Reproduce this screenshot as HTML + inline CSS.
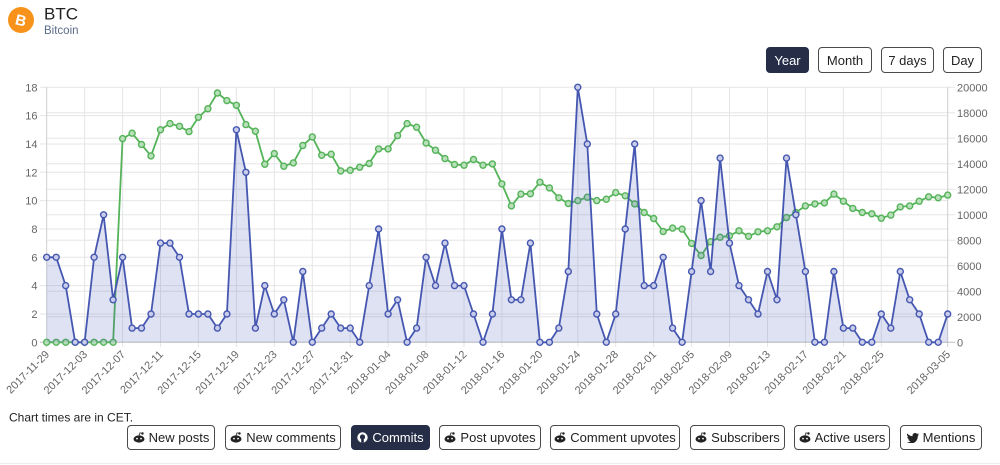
<!DOCTYPE html>
<html><head><meta charset="utf-8"><style>
body{margin:0;width:1000px;height:465px;position:relative;background:#fff;font-family:"Liberation Sans",sans-serif;overflow:hidden}
.btn{position:absolute;box-sizing:border-box;border:1px solid #4a4a4a;border-radius:4px;background:#fff;color:#222;font-size:13px;display:flex;align-items:center;justify-content:center;white-space:nowrap}
.btn.on{background:#252d47;border-color:#252d47;color:#fff}
.btn svg{margin-right:4px}
</style></head><body>
<svg width="1000" height="465" style="position:absolute;left:0;top:0" font-family="Liberation Sans, sans-serif">
<defs>
<marker id="mb" markerUnits="userSpaceOnUse" markerWidth="10" markerHeight="10" refX="5" refY="5" overflow="visible"><circle cx="5" cy="5" r="3" fill="#c9cdea" stroke="#4557b0" stroke-width="1.4"/></marker>
<marker id="mg" markerUnits="userSpaceOnUse" markerWidth="10" markerHeight="10" refX="5" refY="5" overflow="visible"><circle cx="5" cy="5" r="3" fill="#b8e0ba" stroke="#55b359" stroke-width="1.4"/></marker>
</defs>
<!-- header -->
<circle cx="21" cy="20" r="13" fill="#f7931a"/>
<text x="21" y="25.5" font-size="15" font-weight="bold" fill="#fff" text-anchor="middle" transform="rotate(14 21 20)">B</text>
<text x="44" y="19.5" font-size="17" fill="#222">BTC</text>
<text x="44" y="34" font-size="11.5" fill="#5b6b8a">Bitcoin</text>
<!-- grid horizontal -->
<g stroke="#e6e6e6" stroke-width="1">
<line x1="40" x2="947.7" y1="314.0" y2="314.0"/><line x1="40" x2="947.7" y1="285.6" y2="285.6"/><line x1="40" x2="947.7" y1="257.3" y2="257.3"/><line x1="40" x2="947.7" y1="229.0" y2="229.0"/><line x1="40" x2="947.7" y1="200.6" y2="200.6"/><line x1="40" x2="947.7" y1="172.3" y2="172.3"/><line x1="40" x2="947.7" y1="144.0" y2="144.0"/><line x1="40" x2="947.7" y1="115.6" y2="115.6"/><line x1="40" x2="955" y1="87.3" y2="87.3"/>
<line x1="46.7" x2="955" y1="316.8" y2="316.8"/><line x1="46.7" x2="955" y1="291.3" y2="291.3"/><line x1="46.7" x2="955" y1="265.8" y2="265.8"/><line x1="46.7" x2="955" y1="240.3" y2="240.3"/><line x1="46.7" x2="955" y1="214.8" y2="214.8"/><line x1="46.7" x2="955" y1="189.3" y2="189.3"/><line x1="46.7" x2="955" y1="163.8" y2="163.8"/><line x1="46.7" x2="955" y1="138.3" y2="138.3"/><line x1="46.7" x2="955" y1="112.8" y2="112.8"/>
</g>
<!-- grid vertical -->
<g stroke="#e6e6e6" stroke-width="1">
<line x1="84.6" x2="84.6" y1="87.3" y2="347"/><line x1="122.6" x2="122.6" y1="87.3" y2="347"/><line x1="160.5" x2="160.5" y1="87.3" y2="347"/><line x1="198.4" x2="198.4" y1="87.3" y2="347"/><line x1="236.4" x2="236.4" y1="87.3" y2="347"/><line x1="274.3" x2="274.3" y1="87.3" y2="347"/><line x1="312.3" x2="312.3" y1="87.3" y2="347"/><line x1="350.2" x2="350.2" y1="87.3" y2="347"/><line x1="388.1" x2="388.1" y1="87.3" y2="347"/><line x1="426.1" x2="426.1" y1="87.3" y2="347"/><line x1="464.0" x2="464.0" y1="87.3" y2="347"/><line x1="501.9" x2="501.9" y1="87.3" y2="347"/><line x1="539.9" x2="539.9" y1="87.3" y2="347"/><line x1="577.8" x2="577.8" y1="87.3" y2="347"/><line x1="615.7" x2="615.7" y1="87.3" y2="347"/><line x1="653.7" x2="653.7" y1="87.3" y2="347"/><line x1="691.6" x2="691.6" y1="87.3" y2="347"/><line x1="729.5" x2="729.5" y1="87.3" y2="347"/><line x1="767.5" x2="767.5" y1="87.3" y2="347"/><line x1="805.4" x2="805.4" y1="87.3" y2="347"/><line x1="843.4" x2="843.4" y1="87.3" y2="347"/><line x1="881.3" x2="881.3" y1="87.3" y2="347"/>
</g>
<g stroke="#cfcfcf" stroke-width="1">
<line x1="46.7" x2="46.7" y1="87.3" y2="347"/><line x1="947.7" x2="947.7" y1="87.3" y2="347"/>
</g>
<line x1="40" x2="955" y1="342.3" y2="342.3" stroke="#bdbdbd" stroke-width="1"/>
<!-- green series (drawn first) -->
<polyline fill="none" stroke="#55b359" stroke-width="1.8" stroke-linejoin="round" marker-start="url(#mg)" marker-mid="url(#mg)" marker-end="url(#mg)" points="46.7,342.3 56.2,342.3 65.7,342.3 75.2,342.3 84.6,342.3 94.1,342.3 103.6,342.3 113.1,342.3 122.6,138.6 132.1,133.2 141.5,144.5 151.0,155.9 160.5,129.7 170.0,123.6 179.5,126.3 189.0,131.6 198.4,117.3 207.9,108.7 217.4,93.0 226.9,100.6 236.4,105.3 245.9,124.6 255.4,131.2 264.8,164.2 274.3,153.6 283.8,166.2 293.3,162.9 302.8,145.5 312.3,136.9 321.7,155.3 331.2,154.2 340.7,170.9 350.2,170.2 359.7,167.2 369.2,163.5 378.6,148.9 388.1,148.9 397.6,135.6 407.1,123.6 416.6,127.2 426.1,143.0 435.5,150.2 445.0,158.6 454.5,164.5 464.0,165.2 473.5,159.5 483.0,165.2 492.4,163.9 501.9,183.9 511.4,205.9 520.9,194.1 530.4,193.8 539.9,182.2 549.4,187.9 558.8,197.8 568.3,203.5 577.8,200.6 587.3,197.2 596.8,200.6 606.3,199.2 615.7,192.6 625.2,195.8 634.7,203.9 644.2,212.5 653.7,218.5 663.2,231.5 672.6,228.1 682.1,229.1 691.6,243.4 701.1,255.5 710.6,241.7 720.1,237.2 729.5,235.8 739.0,230.8 748.5,236.3 758.0,231.8 767.5,230.8 777.0,226.8 786.5,217.5 795.9,212.5 805.4,205.9 814.9,203.9 824.4,202.9 833.9,194.1 843.4,201.2 852.8,208.4 862.3,212.5 871.8,213.8 881.3,218.2 890.8,215.1 900.3,206.9 909.7,205.9 919.2,201.2 928.7,196.8 938.2,197.8 947.7,195.1"/>
<!-- blue fill -->
<polygon fill="rgba(63,81,181,0.17)" stroke="none" points="46.7,257.3 56.2,257.3 65.7,285.6 75.2,342.3 84.6,342.3 94.1,257.3 103.6,214.8 113.1,299.8 122.6,257.3 132.1,328.1 141.5,328.1 151.0,314.0 160.5,243.1 170.0,243.1 179.5,257.3 189.0,314.0 198.4,314.0 207.9,314.0 217.4,328.1 226.9,314.0 236.4,129.8 245.9,172.3 255.4,328.1 264.8,285.6 274.3,314.0 283.8,299.8 293.3,342.3 302.8,271.5 312.3,342.3 321.7,328.1 331.2,314.0 340.7,328.1 350.2,328.1 359.7,342.3 369.2,285.6 378.6,229.0 388.1,314.0 397.6,299.8 407.1,342.3 416.6,328.1 426.1,257.3 435.5,285.6 445.0,243.1 454.5,285.6 464.0,285.6 473.5,314.0 483.0,342.3 492.4,314.0 501.9,229.0 511.4,299.8 520.9,299.8 530.4,243.1 539.9,342.3 549.4,342.3 558.8,328.1 568.3,271.5 577.8,87.3 587.3,144.0 596.8,314.0 606.3,342.3 615.7,314.0 625.2,229.0 634.7,144.0 644.2,285.6 653.7,285.6 663.2,257.3 672.6,328.1 682.1,342.3 691.6,271.5 701.1,200.6 710.6,271.5 720.1,158.1 729.5,243.1 739.0,285.6 748.5,299.8 758.0,314.0 767.5,271.5 777.0,299.8 786.5,158.1 795.9,214.8 805.4,271.5 814.9,342.3 824.4,342.3 833.9,271.5 843.4,328.1 852.8,328.1 862.3,342.3 871.8,342.3 881.3,314.0 890.8,328.1 900.3,271.5 909.7,299.8 919.2,314.0 928.7,342.3 938.2,342.3 947.7,314.0 947.7,342.3 46.7,342.3"/>
<!-- blue line -->
<polyline fill="none" stroke="#4557b0" stroke-width="1.8" stroke-linejoin="round" marker-start="url(#mb)" marker-mid="url(#mb)" marker-end="url(#mb)" points="46.7,257.3 56.2,257.3 65.7,285.6 75.2,342.3 84.6,342.3 94.1,257.3 103.6,214.8 113.1,299.8 122.6,257.3 132.1,328.1 141.5,328.1 151.0,314.0 160.5,243.1 170.0,243.1 179.5,257.3 189.0,314.0 198.4,314.0 207.9,314.0 217.4,328.1 226.9,314.0 236.4,129.8 245.9,172.3 255.4,328.1 264.8,285.6 274.3,314.0 283.8,299.8 293.3,342.3 302.8,271.5 312.3,342.3 321.7,328.1 331.2,314.0 340.7,328.1 350.2,328.1 359.7,342.3 369.2,285.6 378.6,229.0 388.1,314.0 397.6,299.8 407.1,342.3 416.6,328.1 426.1,257.3 435.5,285.6 445.0,243.1 454.5,285.6 464.0,285.6 473.5,314.0 483.0,342.3 492.4,314.0 501.9,229.0 511.4,299.8 520.9,299.8 530.4,243.1 539.9,342.3 549.4,342.3 558.8,328.1 568.3,271.5 577.8,87.3 587.3,144.0 596.8,314.0 606.3,342.3 615.7,314.0 625.2,229.0 634.7,144.0 644.2,285.6 653.7,285.6 663.2,257.3 672.6,328.1 682.1,342.3 691.6,271.5 701.1,200.6 710.6,271.5 720.1,158.1 729.5,243.1 739.0,285.6 748.5,299.8 758.0,314.0 767.5,271.5 777.0,299.8 786.5,158.1 795.9,214.8 805.4,271.5 814.9,342.3 824.4,342.3 833.9,271.5 843.4,328.1 852.8,328.1 862.3,342.3 871.8,342.3 881.3,314.0 890.8,328.1 900.3,271.5 909.7,299.8 919.2,314.0 928.7,342.3 938.2,342.3 947.7,314.0"/>
<!-- left axis labels -->
<g font-size="11" fill="#666" text-anchor="end">
<text x="37.5" y="346.3">0</text><text x="37.5" y="318.0">2</text><text x="37.5" y="289.6">4</text><text x="37.5" y="261.3">6</text><text x="37.5" y="233.0">8</text><text x="37.5" y="204.6">10</text><text x="37.5" y="176.3">12</text><text x="37.5" y="148.0">14</text><text x="37.5" y="119.6">16</text><text x="37.5" y="91.3">18</text>
</g>
<!-- right axis labels -->
<g font-size="11" fill="#666">
<text x="957" y="346.3">0</text><text x="957" y="320.8">2000</text><text x="957" y="295.3">4000</text><text x="957" y="269.8">6000</text><text x="957" y="244.3">8000</text><text x="957" y="218.8">10000</text><text x="957" y="193.3">12000</text><text x="957" y="167.8">14000</text><text x="957" y="142.3">16000</text><text x="957" y="116.8">18000</text><text x="957" y="91.3">20000</text>
</g>
<!-- x labels -->
<g font-size="11" fill="#666" text-anchor="end">
<text transform="translate(50,355) rotate(-45)">2017-11-29</text>
<text transform="translate(87.9,355) rotate(-45)">2017-12-03</text>
<text transform="translate(125.9,355) rotate(-45)">2017-12-07</text>
<text transform="translate(163.8,355) rotate(-45)">2017-12-11</text>
<text transform="translate(201.7,355) rotate(-45)">2017-12-15</text>
<text transform="translate(239.7,355) rotate(-45)">2017-12-19</text>
<text transform="translate(277.6,355) rotate(-45)">2017-12-23</text>
<text transform="translate(315.6,355) rotate(-45)">2017-12-27</text>
<text transform="translate(353.5,355) rotate(-45)">2017-12-31</text>
<text transform="translate(391.4,355) rotate(-45)">2018-01-04</text>
<text transform="translate(429.4,355) rotate(-45)">2018-01-08</text>
<text transform="translate(467.3,355) rotate(-45)">2018-01-12</text>
<text transform="translate(505.2,355) rotate(-45)">2018-01-16</text>
<text transform="translate(543.2,355) rotate(-45)">2018-01-20</text>
<text transform="translate(581.1,355) rotate(-45)">2018-01-24</text>
<text transform="translate(619.0,355) rotate(-45)">2018-01-28</text>
<text transform="translate(657.0,355) rotate(-45)">2018-02-01</text>
<text transform="translate(694.9,355) rotate(-45)">2018-02-05</text>
<text transform="translate(732.8,355) rotate(-45)">2018-02-09</text>
<text transform="translate(770.8,355) rotate(-45)">2018-02-13</text>
<text transform="translate(808.7,355) rotate(-45)">2018-02-17</text>
<text transform="translate(846.7,355) rotate(-45)">2018-02-21</text>
<text transform="translate(884.6,355) rotate(-45)">2018-02-25</text>
<text transform="translate(951,355) rotate(-45)">2018-03-05</text>
</g>
<text x="9" y="421.5" font-size="12" fill="#222">Chart times are in CET.</text>
<line x1="0" x2="1000" y1="463.5" y2="463.5" stroke="#ececec" stroke-width="1"/>
</svg>

<div class="btn on" style="left:766px;top:47px;width:43px;height:26px">Year</div>
<div class="btn" style="left:818px;top:47px;width:54px;height:26px">Month</div>
<div class="btn" style="left:881px;top:47px;width:53px;height:26px">7 days</div>
<div class="btn" style="left:943px;top:47px;width:39px;height:26px">Day</div>

<div class="btn" style="left:127px;top:425px;width:88px;height:25px"><svg width="12" height="11" viewBox="0 0 12 11"><ellipse cx="6" cy="7" rx="5.5" ry="3.6" fill="#222"/><circle cx="9.5" cy="1.5" r="1.2" fill="#222"/><path d="M6 3.5 L7 0.8 L9.5 1.5" stroke="#222" fill="none" stroke-width="0.8"/><circle cx="4" cy="6.6" r="0.9" fill="#fff"/><circle cx="8" cy="6.6" r="0.9" fill="#fff"/></svg>New posts</div>
<div class="btn" style="left:225px;top:425px;width:116px;height:25px"><svg width="12" height="11" viewBox="0 0 12 11"><ellipse cx="6" cy="7" rx="5.5" ry="3.6" fill="#222"/><circle cx="9.5" cy="1.5" r="1.2" fill="#222"/><path d="M6 3.5 L7 0.8 L9.5 1.5" stroke="#222" fill="none" stroke-width="0.8"/><circle cx="4" cy="6.6" r="0.9" fill="#fff"/><circle cx="8" cy="6.6" r="0.9" fill="#fff"/></svg>New comments</div>
<div class="btn on" style="left:351px;top:425px;width:79px;height:25px"><svg width="11" height="11" viewBox="0 0 11 11"><circle cx="5.5" cy="5.5" r="5.2" fill="#fff"/><circle cx="5.5" cy="5" r="2.6" fill="#252d47"/><path d="M4.2 7 L4.2 10.8 L6.8 10.8 L6.8 7 Z" fill="#252d47"/></svg>Commits</div>
<div class="btn" style="left:439px;top:425px;width:102px;height:25px"><svg width="12" height="11" viewBox="0 0 12 11"><ellipse cx="6" cy="7" rx="5.5" ry="3.6" fill="#222"/><circle cx="9.5" cy="1.5" r="1.2" fill="#222"/><path d="M6 3.5 L7 0.8 L9.5 1.5" stroke="#222" fill="none" stroke-width="0.8"/><circle cx="4" cy="6.6" r="0.9" fill="#fff"/><circle cx="8" cy="6.6" r="0.9" fill="#fff"/></svg>Post upvotes</div>
<div class="btn" style="left:550px;top:425px;width:130px;height:25px"><svg width="12" height="11" viewBox="0 0 12 11"><ellipse cx="6" cy="7" rx="5.5" ry="3.6" fill="#222"/><circle cx="9.5" cy="1.5" r="1.2" fill="#222"/><path d="M6 3.5 L7 0.8 L9.5 1.5" stroke="#222" fill="none" stroke-width="0.8"/><circle cx="4" cy="6.6" r="0.9" fill="#fff"/><circle cx="8" cy="6.6" r="0.9" fill="#fff"/></svg>Comment upvotes</div>
<div class="btn" style="left:690px;top:425px;width:95px;height:25px"><svg width="12" height="11" viewBox="0 0 12 11"><ellipse cx="6" cy="7" rx="5.5" ry="3.6" fill="#222"/><circle cx="9.5" cy="1.5" r="1.2" fill="#222"/><path d="M6 3.5 L7 0.8 L9.5 1.5" stroke="#222" fill="none" stroke-width="0.8"/><circle cx="4" cy="6.6" r="0.9" fill="#fff"/><circle cx="8" cy="6.6" r="0.9" fill="#fff"/></svg>Subscribers</div>
<div class="btn" style="left:794px;top:425px;width:96px;height:25px"><svg width="12" height="11" viewBox="0 0 12 11"><ellipse cx="6" cy="7" rx="5.5" ry="3.6" fill="#222"/><circle cx="9.5" cy="1.5" r="1.2" fill="#222"/><path d="M6 3.5 L7 0.8 L9.5 1.5" stroke="#222" fill="none" stroke-width="0.8"/><circle cx="4" cy="6.6" r="0.9" fill="#fff"/><circle cx="8" cy="6.6" r="0.9" fill="#fff"/></svg>Active users</div>
<div class="btn" style="left:900px;top:425px;width:82px;height:25px"><svg width="12" height="10" viewBox="0 0 12 10"><path d="M12 1.2 C11.5 1.4 11 1.6 10.5 1.6 C11 1.3 11.4 0.8 11.6 0.3 C11.1 0.6 10.5 0.8 10 0.9 C9.5 0.3 8.8 0 8.1 0 C6.6 0 5.5 1.2 5.5 2.6 C5.5 2.8 5.5 3 5.6 3.2 C3.4 3.1 1.5 2 0.3 0.5 C0 1 -0.1 1.5 0.1 2 C0.2 2.9 0.7 3.6 1.4 4.1 C1 4.1 0.6 4 0.3 3.8 C0.3 5.1 1.2 6.1 2.4 6.4 C2 6.5 1.6 6.5 1.2 6.4 C1.5 7.4 2.5 8.2 3.7 8.2 C2.6 9 1.3 9.5 0 9.4 C1.2 10.1 2.5 10.5 3.8 10.5 C8.4 10.5 10.8 6.7 10.8 3.4 L10.8 3 C11.3 2.6 11.7 2 12 1.2 Z" fill="#222"/></svg>Mentions</div>
</body></html>
